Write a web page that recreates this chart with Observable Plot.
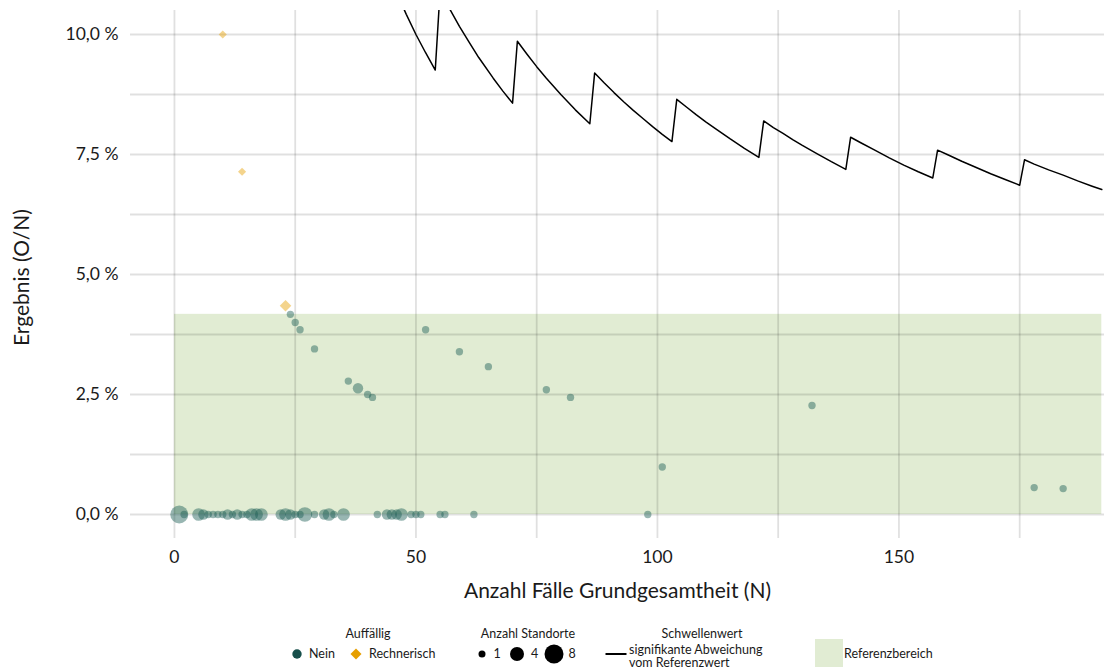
<!DOCTYPE html>
<html><head><meta charset="utf-8">
<script src="https://cdn.jsdelivr.net/npm/d3@7"></script>
<script src="https://cdn.jsdelivr.net/npm/@observablehq/plot@0.6"></script>
<style>
body{margin:0;background:#fff;font-family:Lato,"Open Sans",sans-serif;}
#chart{position:relative;width:1104px;height:670px;overflow:hidden;}
#legend{position:absolute;left:0;top:610px;width:1104px;height:60px;}
.lg{position:absolute;font-size:12.5px;color:#1a1a1a;white-space:nowrap;line-height:13.5px;}
.c{transform:translate(-50%,-50%);}
.l{transform:translateY(-50%);}
</style></head><body><div id="chart"></div>
<script>
// ---- data ----
// Auffällig: Nein (N, Ergebnis %, Anzahl Standorte)
const neinN    = [24,25,26,29,36,38,40,41,52,59,65,77,82,101,132,178,184,
                  1,2,5,6,7,8,9,10,11,12,13,14,15,16,17,18,22,23,24,25,26,27,29,31,32,33,35,42,44,45,46,47,49,50,51,55,56,62,98];
const neinPct  = [4.17,4.00,3.85,3.45,2.78,2.63,2.50,2.44,3.85,3.39,3.08,2.60,2.44,0.99,2.27,0.56,0.54,
                  0,0,0,0,0,0,0,0,0,0,0,0,0,0,0,0,0,0,0,0,0,0,0,0,0,0,0,0,0,0,0,0,0,0,0,0,0,0,0];
const neinSize = [1,1,1,1,1,2,1,1,1,1,1,1,1,1,1,1,1,
                  6,1,3,2,1,1,1,1,2,1,2,1,1,3,3,3,2,3,2,1,1,4,1,2,3,1,3,1,2,2,2,3,1,1,1,1,1,1,1];
// Auffällig: Rechnerisch
const rechN    = [10,14,23];
const rechPct  = [10.0,7.14,4.35];
const rechSize = [1,1,2];
// Schwellenwert signifikante Abweichung vom Referenzwert
const thrN   = [38,39,44,46,48,50,52,54,
                55,57,59,61,63,66,68,70,
                71,73,75,77,80,83,86,
                87,89,91,93,95,97,99,101,103,
                104,106,108,110,112,115,118,121,
                122,124,126,128,130,133,136,139,
                140,142,145,148,151,154,157,
                158,160,163,166,169,172,175,
                176,178,181,184,187,190,192];
const thrPct = [10.53,12.82,11.36,10.87,10.42,10.00,9.62,9.26,
                10.91,10.53,10.17,9.84,9.52,9.09,8.82,8.57,
                9.86,9.59,9.33,9.09,8.75,8.43,8.14,
                9.20,8.99,8.79,8.60,8.42,8.25,8.08,7.92,7.77,
                8.65,8.49,8.33,8.18,8.04,7.83,7.63,7.44,
                8.20,8.06,7.94,7.81,7.69,7.52,7.35,7.19,
                7.86,7.75,7.59,7.43,7.28,7.14,7.01,
                7.59,7.50,7.36,7.23,7.10,6.98,6.86,
                7.39,7.30,7.18,7.07,6.95,6.84,6.77];
// Referenzbereich
const refRange = {nMin: 0, nMax: 192, lower: 0, upper: 4.17};
// ticks
const xTicks = [0,50,100,150];
const xGrid  = [0,25,50,75,100,125,150,175];
const yTicks = [0,2.5,5,7.5,10];
const yGrid  = [0,1.25,2.5,3.75,5,6.25,7.5,8.75,10];

const nein = neinN.map((n,i)=>({n, pct:neinPct[i], size:neinSize[i]}));
const rech = rechN.map((n,i)=>({n, pct:rechPct[i], size:rechSize[i]}));
const thr  = thrN.map((n,i)=>({n, pct:thrPct[i]}));

const fmtY = d => d.toFixed(1).replace(".", ",") + " %";
const gridStyle = {stroke:"#000", strokeOpacity:0.12, strokeWidth:1.8};

const plot = Plot.plot({
  width: 1104, height: 610,
  marginLeft: 130, marginRight: 0, marginTop: 10, marginBottom: 72,
  style: {fontFamily: "Lato, 'Open Sans', sans-serif", fontSize: "17.5px", color: "#1a1a1a", background: "#fff"},
  x: {domain: [-9.1, 192.56], axis: null},
  y: {domain: [-0.5, 10.5], axis: null},
  r: {type: "sqrt", domain: [0, 8], range: [0, 10.4]},
  marks: [
    Plot.rect([refRange], {x1: "nMin", x2: "nMax", y1: "lower", y2: "upper", fill: "#e1ecd3"}),
    Plot.ruleX(xGrid, gridStyle),
    Plot.ruleY(yGrid, gridStyle),
    Plot.axisX({ticks: xTicks, tickSize: 0, tickPadding: 12, label: null, fontSize: 17.5}),
    Plot.axisY({ticks: yTicks, tickSize: 0, tickPadding: 12, tickFormat: fmtY, label: null, fontSize: 17.5}),
    Plot.line(thr, {x: "n", y: "pct", stroke: "#000", strokeWidth: 1.5, clip: true}),
    Plot.dot(nein, {x: "n", y: "pct", r: "size", fill: "#1B5E55", fillOpacity: 0.45}),
    Plot.dot(rech, {x: "n", y: "pct", r: "size", symbol: "diamond2", fill: "#E69F00", fillOpacity: 0.45}),
    Plot.text(["Anzahl Fälle Grundgesamtheit (N)"], {frameAnchor: "bottom", lineAnchor: "middle", dy: 53, fontSize: 21, fill: "#1a1a1a"}),
    Plot.text(["Ergebnis (O/N)"], {frameAnchor: "left", lineAnchor: "middle", textAnchor: "middle", rotate: -90, dx: -108, dy: 3, fontSize: 21, fill: "#1a1a1a"})
  ]
});
const chart = document.getElementById("chart");
chart.appendChild(plot);

// ---- legend ----
const legend = document.createElement("div");
legend.id = "legend";
const T = 610;
function txt(s, x, y, cls) {
  const d = document.createElement("div");
  d.className = "lg " + cls;
  d.style.left = x + "px"; d.style.top = (y - T) + "px";
  d.innerHTML = s;
  legend.appendChild(d);
}
function sym(html, x, y, w, h) {
  const d = document.createElement("div");
  d.style.position = "absolute";
  d.style.left = (x - w/2) + "px"; d.style.top = (y - T - h/2) + "px";
  d.innerHTML = `<svg width="${w}" height="${h}" viewBox="${-w/2} ${-h/2} ${w} ${h}" style="display:block">${html}</svg>`;
  legend.appendChild(d);
}
txt("Auffällig", 368, 634, "c");
sym(`<circle r="4.7" fill="#174f4b"/>`, 297, 654, 12, 12);
txt("Nein", 309, 654, "l");
sym(`<path d="M0,-5.5L5.5,0L0,5.5L-5.5,0Z" fill="#E69F00"/>`, 356, 654, 12, 12);
txt("Rechnerisch", 369, 654, "l");

txt("Anzahl Standorte", 528, 634, "c");
sym(`<circle r="3.5" fill="#000"/>`, 482, 654, 10, 10);
txt("1", 497, 654, "c");
sym(`<circle r="7" fill="#000"/>`, 517, 654, 16, 16);
txt("4", 534.5, 654, "c");
sym(`<circle r="9.5" fill="#000"/>`, 554, 654, 22, 22);
txt("8", 572, 654, "c");

txt("Schwellenwert", 702, 634, "c");
sym(`<line x1="-10.5" x2="10.5" y1="0" y2="0" stroke="#000" stroke-width="2"/>`, 615.5, 654, 22, 4);
txt("signifikante Abweichung<br>vom Referenzwert", 629, 655.5, "l");

sym(`<rect x="-14" y="-14" width="28" height="28" fill="#e1ecd3"/>`, 829, 653, 28, 28);
txt("Referenzbereich", 844, 654, "l");

chart.appendChild(legend);
</script>
</body></html>
